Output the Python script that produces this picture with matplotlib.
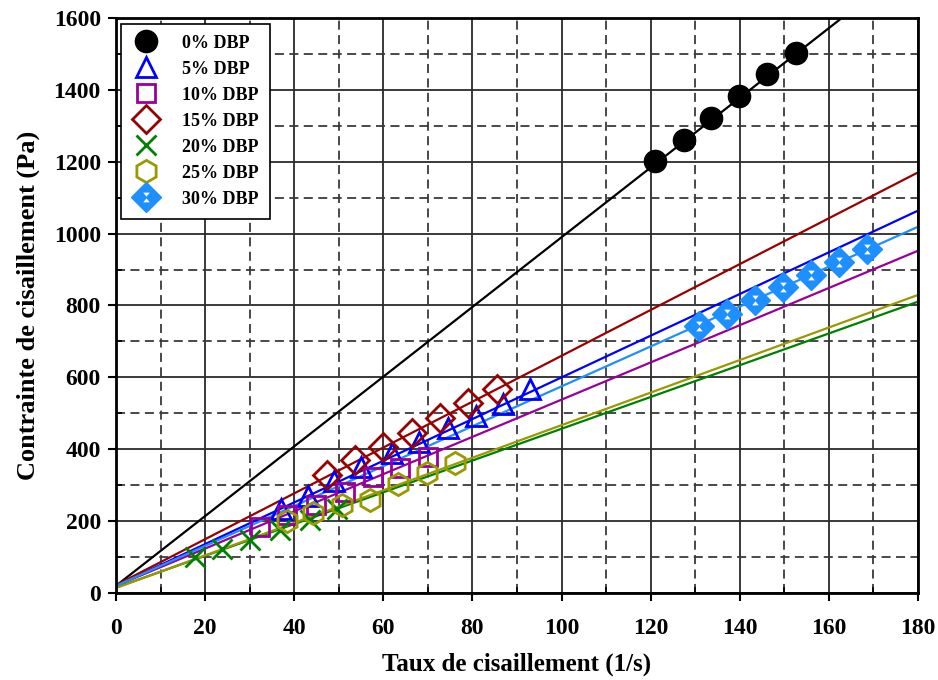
import numpy as np
import matplotlib
matplotlib.use("Agg")
import matplotlib.pyplot as plt
import matplotlib.ticker as ticker
from matplotlib.path import Path
from matplotlib.legend_handler import HandlerTuple

plt.rcParams["font.family"] = ["Liberation Serif", "DejaVu Serif"]
plt.rcParams["font.weight"] = "bold"

# -------------------------------
# Data: shear rate (1/s) vs shear stress (Pa)
# -------------------------------
labels = ["0% DBP", "5% DBP", "10% DBP", "15% DBP", "20% DBP", "25% DBP", "30% DBP"]
colors = ["#000000", "#0000ff", "#990099", "#990000", "#008000", "#999900", "#1e8fff"]

rate_0 = [121.0, 127.5, 133.5, 139.8, 146.1, 152.6]
stress_0 = [1202, 1260, 1322, 1383, 1444, 1502]

rate_5 = [37, 43, 49, 55, 62, 68, 74.5, 80.8, 86.8, 92.9]
stress_5 = [235, 270, 312, 350, 390, 420, 459, 492, 526, 568]

rate_10 = [32.3, 38.4, 44.9, 51.4, 57.7, 63.7, 70.0]
stress_10 = [184, 217, 245, 281, 323, 348, 378]

rate_15 = [47.3, 53.6, 59.9, 66.4, 72.7, 79.0, 85.5]
stress_15 = [328, 370, 406, 445, 487, 529, 568]

rate_20 = [17.7, 23.8, 30.1, 36.8, 43.5, 49.6]
stress_20 = [100, 122, 148, 175, 203, 234]

rate_25 = [38.4, 44.2, 50.7, 57.0, 63.3, 69.8, 76.1]
stress_25 = [200, 222, 244, 258, 302, 334, 362]

rate_30 = [130.8, 137.1, 143.4, 149.7, 156.0, 162.3, 168.6]
stress_30 = [743, 776, 815, 851, 885, 921, 957]

# linear fits: stress = intercept + slope * rate
fit_intercept = [20, 20, 20, 22, 15, 14, 20]
fit_slope = [9.7, 5.8, 5.18, 6.38, 4.42, 4.53, 5.55]

# -------------------------------
# Figure
# -------------------------------
fig = plt.figure(figsize=(9.38, 6.8), dpi=100)
ax = fig.add_axes([0.1237, 0.128, 0.855, 0.8455])

ax.set_xlim(0, 180)
ax.set_ylim(0, 1600)
ax.xaxis.set_major_locator(ticker.MultipleLocator(20))
ax.xaxis.set_minor_locator(ticker.MultipleLocator(10))
ax.yaxis.set_major_locator(ticker.MultipleLocator(200))
ax.yaxis.set_minor_locator(ticker.MultipleLocator(100))
ax.grid(which="major", color="#2a2a2a", linestyle="-", linewidth=1.3, zorder=0)
ax.grid(which="minor", color="#3a3a3a", linestyle=(0, (5, 3)), linewidth=1.3, zorder=0)
ax.set_axisbelow(True)
for s in ax.spines.values():
    s.set_linewidth(2.0)
ax.tick_params(which="major", direction="out", length=6, width=1.5, labelsize=17)
ax.tick_params(axis="y", which="major", pad=5)
ax.tick_params(axis="x", which="major", pad=12)
ax.tick_params(which="minor", direction="in", length=4, width=1.2)

# fit lines
xfit = np.array([0, 180])
for b, m, c in zip(fit_intercept, fit_slope, colors):
    ax.plot(xfit, b + m * xfit, color=c, linewidth=1.6, zorder=2)

# white hourglass drawn inside the 30% diamond
hourglass = Path(
    [(-0.3, 0.45), (0.3, 0.45), (0, 0.08), (-0.3, 0.45),
     (-0.3, -0.45), (0.3, -0.45), (0, -0.08), (-0.3, -0.45)],
    [Path.MOVETO, Path.LINETO, Path.LINETO, Path.CLOSEPOLY,
     Path.MOVETO, Path.LINETO, Path.LINETO, Path.CLOSEPOLY],
)

handles = []
h = ax.plot(rate_0, stress_0, "o", color=colors[0], markersize=16, zorder=3)[0]
handles.append(h)
h = ax.plot(rate_5, stress_5, "^", mfc="none", mec=colors[1], mew=2, markersize=15, zorder=3)[0]
handles.append(h)
h = ax.plot(rate_10, stress_10, "s", mfc="none", mec=colors[2], mew=2, markersize=13, zorder=3)[0]
handles.append(h)
h = ax.plot(rate_15, stress_15, "D", mfc="none", mec=colors[3], mew=2, markersize=14, zorder=3)[0]
handles.append(h)
h = ax.plot(rate_20, stress_20, "x", color=colors[4], mew=2, markersize=14, zorder=3)[0]
handles.append(h)
h = ax.plot(rate_25, stress_25, "h", mfc="none", mec=colors[5], mew=2, markersize=16, zorder=3)[0]
handles.append(h)
h1 = ax.plot(rate_30, stress_30, "D", color=colors[6], markersize=15, zorder=3)[0]
h2 = ax.plot(rate_30, stress_30, marker=hourglass, linestyle="none", mfc="white",
             mec="none", markersize=7, zorder=4)[0]
handles.append((h1, h2))

leg = ax.legend(handles, labels, loc="upper left", bbox_to_anchor=(0.006, 0.99),
                handler_map={tuple: HandlerTuple(ndivide=1)},
                prop={"size": 13, "weight": "bold"}, frameon=True, fancybox=False,
                edgecolor="black", framealpha=1, borderpad=0.6, labelspacing=0.5,
                handletextpad=1.2, handlelength=1.6, borderaxespad=0)
leg.get_frame().set_linewidth(1.2)
leg.set_zorder(5)

ax.set_xlabel("Taux de cisaillement (1/s)", fontsize=18, fontweight="bold", labelpad=10)
ax.set_ylabel("Contrainte de cisaillement (Pa)", fontsize=19, fontweight="bold", labelpad=10)

fig.savefig("out.png", dpi=100)
